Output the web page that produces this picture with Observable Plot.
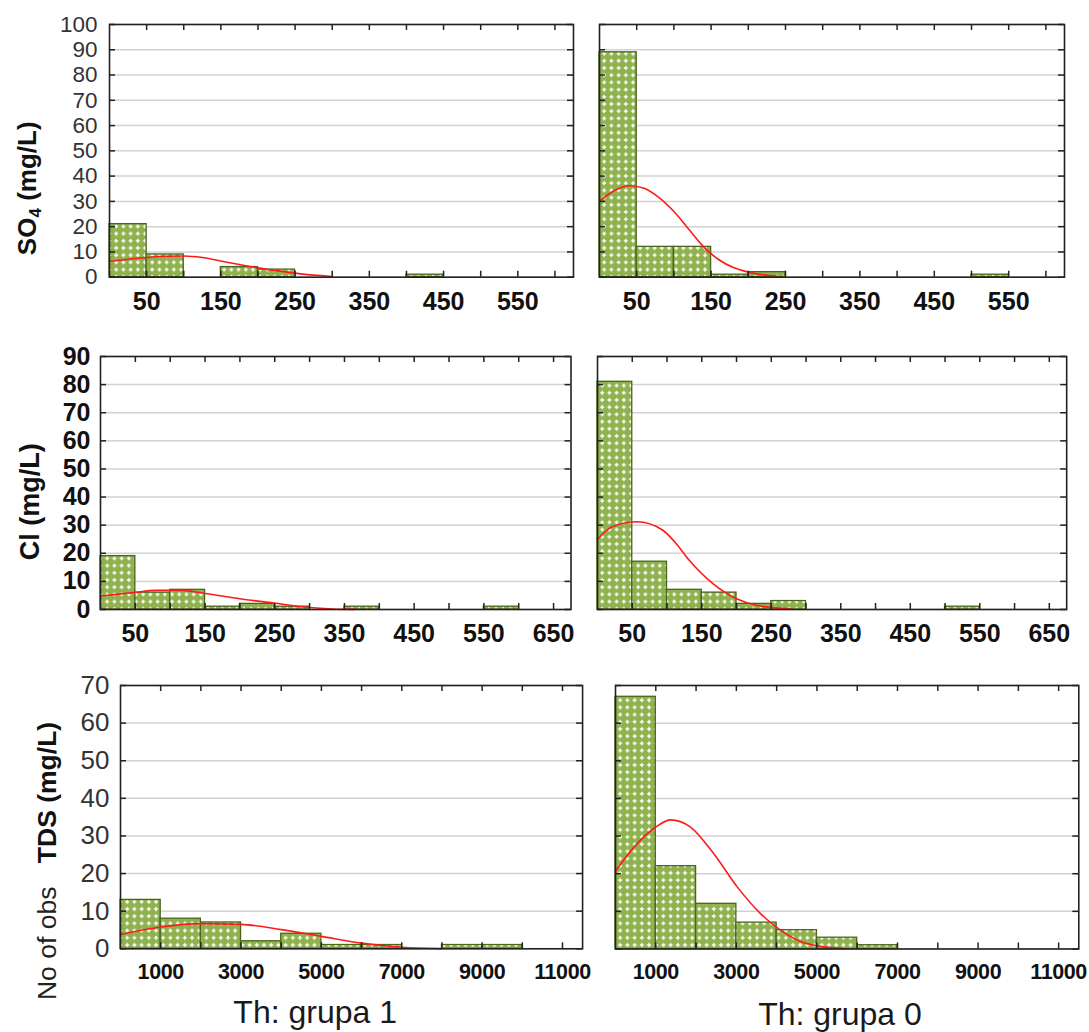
<!DOCTYPE html>
<html><head><meta charset="utf-8">
<script src="https://cdn.jsdelivr.net/npm/d3@7"></script>
<script src="https://cdn.jsdelivr.net/npm/@observablehq/plot@0.6"></script>
<style>
body{margin:0;background:#fff;}
#root{position:relative;width:1089px;height:1032px;overflow:hidden;font-family:"Liberation Sans",Arial,sans-serif;background:#fff;}
.panel{position:absolute;}
#titles{position:absolute;left:0;top:0;pointer-events:none;}
</style></head><body>
<svg width="0" height="0" style="position:absolute">
<defs><pattern id="dots" width="7.2" height="7.2" patternUnits="userSpaceOnUse">
<rect width="7.2" height="7.2" fill="#8fb24e"/>
<path d="M3.6,1.6V5.6M1.6,3.6H5.6" stroke="#ffffff" stroke-width="1.4"/>
</pattern></defs></svg>
<div id="root"></div>
<script>
// ---------- data ----------
const so4Edges = [0,50,100,150,200,250,300,350,400,450,500,550,600];
const so4Grupa1 = [21,9,0,4,3,0,0,0,1,0,0,0];
const so4Grupa0 = [89,12,12,1,2,0,0,0,0,0,1,0];
const clEdges = [0,50,100,150,200,250,300,350,400,450,500,550,600,650];
const clGrupa1 = [19,6,7,1,2,1,0,1,0,0,0,1,0];
const clGrupa0 = [81,17,7,6,2,3,0,0,0,0,1,0,0];
const tdsEdges = [0,1000,2000,3000,4000,5000,6000,7000,8000,9000,10000];
const tdsGrupa1 = [13,8,7,2,4,1,1,0,1,1];
const tdsGrupa0 = [67,22,12,7,5,3,1,0,0,0];

// fitted normal curves
const so4Grupa1CurveX = [0,25,50,75,100,125,150,175,200,225,250,275,300];
const so4Grupa1CurveY = [6.2,7.1,7.8,8.3,8.4,7.8,6.4,5.0,3.7,2.6,1.6,0.8,0.3];
const so4Grupa0CurveX = [0,20,40,60,80,100,120,140,160,180,200,220,240];
const so4Grupa0CurveY = [30,34.3,36.2,35.2,31.5,26,19,12,7,3.8,2,0.9,0.3];
const clGrupa1CurveX = [0,47,79,116,153,200,248,296,333,365];
const clGrupa1CurveY = [4.8,6.0,6.8,6.8,5.6,3.8,2.3,0.8,0.2,0.05];
const clGrupa0CurveX = [0,21,57,94,113,132,166,200,230,278];
const clGrupa0CurveY = [24.9,29.4,31.2,28.2,23.5,17.5,9.2,3.8,1.4,0.2];
const tdsGrupa1CurveX = [0,1000,2000,3000,4000,5000,6000,7000,8000];
const tdsGrupa1CurveY = [3.8,5.8,6.7,6.5,5.1,3.3,1.5,0.4,0.05];
const tdsGrupa0CurveX = [0,455,1000,1365,1861,2440,3020,3600,4094,4590,5087,5665];
const tdsGrupa0CurveY = [20.7,27,32.4,34.3,32.4,25.3,16.5,9.4,5,2,0.7,0.1];

// ticks
const so4XTicks = [50,100,150,200,250,300,350,400,450,500,550,600];
const so4XLabels = [50,150,250,350,450,550];
const so4YTicks = [0,10,20,30,40,50,60,70,80,90,100];
const clXTicks = [50,100,150,200,250,300,350,400,450,500,550,600,650];
const clXLabels = [50,150,250,350,450,550,650];
const clYTicks = [0,10,20,30,40,50,60,70,80,90];
const tdsXTicks = [1000,2000,3000,4000,5000,6000,7000,8000,9000,10000,11000];
const tdsXLabels = [1000,3000,5000,7000,9000,11000];
const tdsYTicks = [0,10,20,30,40,50,60,70];

const root = document.getElementById("root");
const FONT = "Liberation Sans, Arial, sans-serif";

function styleTexts(chart, label, s) {
  chart.querySelectorAll(`[aria-label="${label}"]`).forEach(g => {
    g.style.fontSize = s.size + "px";
    g.style.fontWeight = s.weight;
    g.style.fill = s.color;
    if (s.ls) g.style.letterSpacing = s.ls + "px";
    g.querySelectorAll("text").forEach(t => {
      t.style.fontSize = s.size + "px";
      t.style.fontWeight = s.weight;
      t.style.fill = s.color;
      if (s.ls) t.style.letterSpacing = s.ls + "px";
    });
  });
}

function panel(o) {
  const left = o.left;
  const mL = left ? 90 : 20, mR = 30, mT = 10, mB = 50;
  const w = o.R - o.L, h = o.B - o.T;
  const bins = o.counts.map((c, i) => ({x1: o.edges[i], x2: o.edges[i + 1], n: c})).filter(d => d.n > 0);
  const curve = o.cx.map((x, i) => ({x, y: o.cy[i]}));
  const marks = [
    Plot.gridY(o.yTicks, {stroke: "#d2d2d2", strokeOpacity: 1, strokeWidth: 1.5}),
    Plot.rectY(bins, {x1: "x1", x2: "x2", y: "n", fill: "url(#dots)", stroke: "#4a661c", strokeWidth: 1.3}),
    Plot.line(curve, {x: "x", y: "y", stroke: "#ff1a1a", strokeWidth: 1.6, curve: "monotone-x"}),
    Plot.tickX(o.xTicks, {x: d => d, insetTop: h - 6, stroke: "#222", strokeWidth: 1.5}),
    Plot.tickX(o.xTicks, {x: d => d, insetBottom: h - 6, stroke: "#222", strokeWidth: 1.5}),
    Plot.tickY(o.yTicks, {y: d => d, insetRight: w - 6, stroke: "#222", strokeWidth: 1.5}),
    Plot.tickY(o.yTicks, {y: d => d, insetLeft: w - 6, stroke: "#222", strokeWidth: 1.5}),
    Plot.frame({stroke: "#222", strokeWidth: 1.6}),
    Plot.axisX(o.xLabels, {anchor: "bottom", tickSize: 0, tickPadding: o.xPad, tickFormat: d => String(d), fontSize: o.xFont, fontWeight: "bold", fill: "#111", label: null})
  ];
  if (left) {
    marks.push(Plot.axisY(o.yTicks, {anchor: "left", tickSize: 0, tickPadding: o.yPad, tickFormat: d => String(d), fontSize: o.yFont, fontWeight: o.yWeight, fill: o.yColor, label: null}));
  }
  const chart = Plot.plot({
    width: w + mL + mR,
    height: h + mT + mB,
    marginLeft: mL, marginRight: mR, marginTop: mT, marginBottom: mB,
    style: {background: "transparent", overflow: "visible", fontFamily: FONT},
    x: {domain: o.xDomain, label: null},
    y: {domain: o.yDomain, label: null, axis: left ? undefined : null},
    marks
  });
  styleTexts(chart, "x-axis tick label", {size: o.xFont, weight: "bold", color: "#111", ls: o.xLs});
  if (left) styleTexts(chart, "y-axis tick label", {size: o.yFont, weight: o.yWeight, color: o.yColor});
  const div = document.createElement("div");
  div.className = "panel";
  div.style.left = (o.L - mL) + "px";
  div.style.top = (o.T - mT) + "px";
  div.style.width = (w + mL + mR) + "px";
  div.appendChild(chart);
  root.appendChild(div);
}

// top row: SO4
panel({left: true, L: 109.3, T: 24.3, R: 573.3, B: 277, xDomain: [0, 625], yDomain: [0, 100],
  xTicks: so4XTicks, xLabels: so4XLabels, yTicks: so4YTicks, xFont: 25, xPad: 15, yFont: 22.5, yWeight: "normal", yColor: "#333", yPad: 12,
  edges: so4Edges, counts: so4Grupa1, cx: so4Grupa1CurveX, cy: so4Grupa1CurveY});
panel({left: false, L: 599, T: 24.3, R: 1064, B: 277, xDomain: [0, 625], yDomain: [0, 100],
  xTicks: so4XTicks, xLabels: so4XLabels, yTicks: so4YTicks, xFont: 25, xPad: 15,
  edges: so4Edges, counts: so4Grupa0, cx: so4Grupa0CurveX, cy: so4Grupa0CurveY});
// middle row: Cl
panel({left: true, L: 100, T: 356, R: 570.5, B: 609, xDomain: [0, 675], yDomain: [0, 90],
  xTicks: clXTicks, xLabels: clXLabels, yTicks: clYTicks, xFont: 25, xPad: 15, yFont: 25, yWeight: "bold", yColor: "#111", yPad: 10,
  edges: clEdges, counts: clGrupa1, cx: clGrupa1CurveX, cy: clGrupa1CurveY});
panel({left: false, L: 596.5, T: 356, R: 1065.7, B: 609, xDomain: [0, 675], yDomain: [0, 90],
  xTicks: clXTicks, xLabels: clXLabels, yTicks: clYTicks, xFont: 25, xPad: 15,
  edges: clEdges, counts: clGrupa0, cx: clGrupa0CurveX, cy: clGrupa0CurveY});
// bottom row: TDS
panel({left: true, L: 120.4, T: 685, R: 582.5, B: 948.3, xDomain: [0, 11500], yDomain: [0, 70],
  xTicks: tdsXTicks, xLabels: tdsXLabels, yTicks: tdsYTicks, xFont: 21.5, xLs: -0.4, xPad: 15, yFont: 26, yWeight: "normal", yColor: "#333", yPad: 11,
  edges: tdsEdges, counts: tdsGrupa1, cx: tdsGrupa1CurveX, cy: tdsGrupa1CurveY});
panel({left: false, L: 615, T: 685, R: 1078.3, B: 948.5, xDomain: [0, 11500], yDomain: [0, 70],
  xTicks: tdsXTicks, xLabels: tdsXLabels, yTicks: tdsYTicks, xFont: 21.5, xLs: -0.4, xPad: 15,
  edges: tdsEdges, counts: tdsGrupa0, cx: tdsGrupa0CurveX, cy: tdsGrupa0CurveY});

// titles
const ns = "http://www.w3.org/2000/svg";
const tsvg = document.createElementNS(ns, "svg");
tsvg.setAttribute("id", "titles");
tsvg.setAttribute("width", 1089);
tsvg.setAttribute("height", 1032);
tsvg.style.fontFamily = FONT;
tsvg.innerHTML = `
<text transform="translate(36,188.3) rotate(-90)" text-anchor="middle" font-size="26" font-weight="bold" fill="#111">SO<tspan font-size="17" dy="5">4</tspan><tspan dy="-5"> (mg/L)</tspan></text>
<text transform="translate(39,501.7) rotate(-90)" text-anchor="middle" font-size="27" font-weight="bold" fill="#111">Cl (mg/L)</text>
<text transform="translate(56,792.5) rotate(-90)" text-anchor="middle" font-size="26.5" font-weight="bold" fill="#111">TDS (mg/L)</text>
<text transform="translate(56,943.3) rotate(-90)" text-anchor="middle" font-size="26.5" fill="#222">No of obs</text>
<text x="315.2" y="1023.3" text-anchor="middle" font-size="32" fill="#1a1a1a">Th: grupa 1</text>
<text x="840" y="1024.5" text-anchor="middle" font-size="32" fill="#1a1a1a">Th: grupa 0</text>`;
root.appendChild(tsvg);
</script>
</body></html>
